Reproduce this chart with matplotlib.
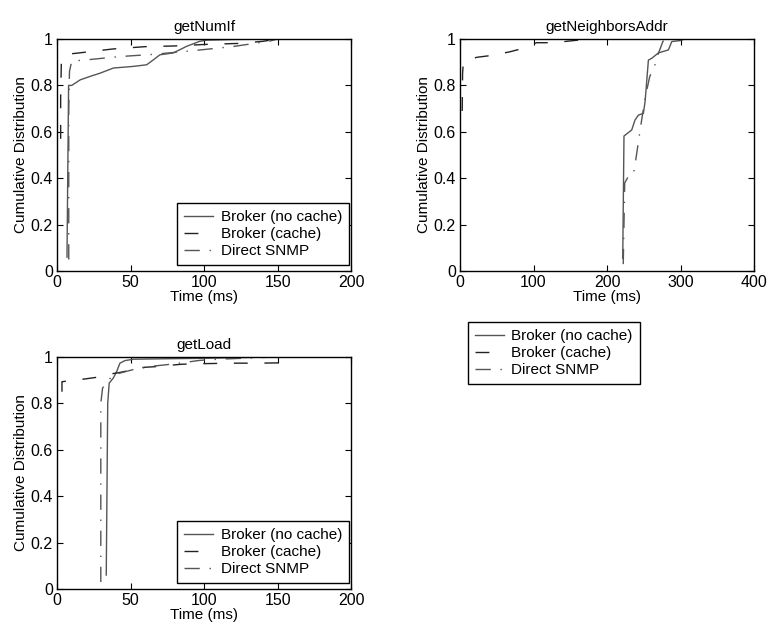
import matplotlib
matplotlib.use("Agg")
import matplotlib.pyplot as plt

plt.rcParams['font.family'] = ['Liberation Sans', 'DejaVu Sans']
plt.rcParams['font.size'] = 11

# ---------- Data ----------
# getNumIf
numif_nocache_x = [6.8, 7.9, 10, 15.8, 22.6, 29.4, 38.4, 52, 61, 65.5, 70, 79, 83.6, 88, 97, 101.7, 120, 150]
numif_nocache_y = [0.06, 0.80, 0.80, 0.824, 0.839, 0.853, 0.875, 0.882, 0.889, 0.91, 0.932, 0.94, 0.954, 0.968, 0.99, 0.995, 0.998, 1.0]
numif_cache_x = [2.5, 2.5, 3, 8, 15, 38, 60, 80, 102, 124, 140, 150]
numif_cache_y = [0.57, 0.75, 0.91, 0.935, 0.94, 0.957, 0.967, 0.970, 0.977, 0.981, 0.99, 1.0]
numif_snmp_x = [8, 8, 8.5, 10, 20, 42, 66, 93, 119, 144, 150]
numif_snmp_y = [0.05, 0.7, 0.86, 0.905, 0.91, 0.924, 0.934, 0.95, 0.967, 0.99, 1.0]

# getNeighborsAddr
nbr_nocache_x = [221.3, 223, 233.5, 238, 242.6, 249.4, 251.7, 256.2, 260.8, 269.8, 283.4, 288, 299, 306]
nbr_nocache_y = [0.055, 0.582, 0.608, 0.651, 0.672, 0.68, 0.73, 0.909, 0.917, 0.94, 0.953, 0.989, 0.993, 1.0]
nbr_cache_x = [3, 3.5, 4.5, 22.6, 45, 68, 86, 104, 127, 145, 163, 172]
nbr_cache_y = [0.69, 0.85, 0.90, 0.921, 0.93, 0.945, 0.96, 0.984, 0.984, 0.99, 0.996, 1.0]
nbr_snmp_x = [222, 224, 230, 236, 240, 243, 246, 252, 258, 265, 270, 276, 285]
nbr_snmp_y = [0.03, 0.38, 0.414, 0.42, 0.5, 0.565, 0.63, 0.75, 0.838, 0.888, 0.94, 0.99, 1.0]

# getLoad
load_nocache_x = [33.5, 34.5, 35.5, 38.3, 40.6, 42.8, 46.2, 52, 75, 100, 125, 150]
load_nocache_y = [0.06, 0.80, 0.887, 0.909, 0.937, 0.973, 0.984, 0.99, 0.992, 0.994, 0.997, 1.0]
load_cache_x = [3.4, 3.4, 7, 19, 27, 35, 42, 59, 67, 84, 92, 110, 119, 137, 158]
load_cache_y = [0.85, 0.893, 0.896, 0.905, 0.912, 0.925, 0.932, 0.955, 0.958, 0.968, 0.970, 0.972, 0.973, 0.973, 0.975]
load_snmp_x = [29.8, 29.8, 31, 38, 51, 65, 80, 97, 110, 130, 150]
load_snmp_y = [0.03, 0.80, 0.866, 0.922, 0.944, 0.96, 0.97, 0.985, 0.99, 0.995, 1.0]

labels = ['Broker (no cache)', 'Broker (cache)', 'Direct SNMP']
yticks = [0, 0.2, 0.4, 0.6, 0.8, 1]
yticklabels = ['0', '0.2', '0.4', '0.6', '0.8', '1']

# ---------- Figure ----------
fig = plt.figure(figsize=(7.7, 6.29), dpi=100)
ax1 = fig.add_axes([0.074, 0.569, 0.382, 0.369])
ax2 = fig.add_axes([0.5974, 0.569, 0.382, 0.369])
ax3 = fig.add_axes([0.074, 0.0636, 0.382, 0.369])


def draw(ax, title, series, xmax, xstep):
    (x1, y1), (x2, y2), (x3, y3) = series
    ax.plot(x1, y1, color='#555555', lw=1.0, label=labels[0])
    ax.plot(x2, y2, color='#222222', lw=1.0, dashes=(10, 12), label=labels[1])
    ax.plot(x3, y3, color='#555555', lw=1.0, dashes=(11, 7, 1, 7), label=labels[2])
    ax.set_xlim(0, xmax)
    ax.set_ylim(0, 1)
    ax.set_xticks(range(0, xmax + 1, xstep))
    ax.set_yticks(yticks)
    ax.set_yticklabels(yticklabels)
    ax.tick_params(direction='in', top=True, right=True, length=4, labelsize=11.5, pad=3)
    ax.set_title(title, fontsize=11, pad=6)
    ax.set_xlabel('Time (ms)', fontsize=11, labelpad=0)
    ax.set_ylabel('Cumulative Distribution', fontsize=11, labelpad=2)
    for s in ax.spines.values():
        s.set_linewidth(1.0)


draw(ax1, 'getNumIf', [(numif_nocache_x, numif_nocache_y),
                       (numif_cache_x, numif_cache_y),
                       (numif_snmp_x, numif_snmp_y)], 200, 50)
draw(ax2, 'getNeighborsAddr', [(nbr_nocache_x, nbr_nocache_y),
                               (nbr_cache_x, nbr_cache_y),
                               (nbr_snmp_x, nbr_snmp_y)], 400, 100)
draw(ax3, 'getLoad', [(load_nocache_x, load_nocache_y),
                      (load_cache_x, load_cache_y),
                      (load_snmp_x, load_snmp_y)], 200, 50)

leg_kw = dict(fontsize=11, fancybox=False, framealpha=1, edgecolor='black',
              borderaxespad=0, labelspacing=0.2, handlelength=1.9,
              handletextpad=0.5, borderpad=0.45)
for ax in (ax1, ax3):
    lg = ax.legend(loc='lower right', bbox_to_anchor=(0.993, 0.026), **leg_kw)
    lg.get_frame().set_linewidth(1.0)
lg = ax2.legend(loc='upper left', bbox_to_anchor=(0.027, -0.22), **leg_kw)
lg.get_frame().set_linewidth(1.0)

fig.savefig('out.png', dpi=100)
